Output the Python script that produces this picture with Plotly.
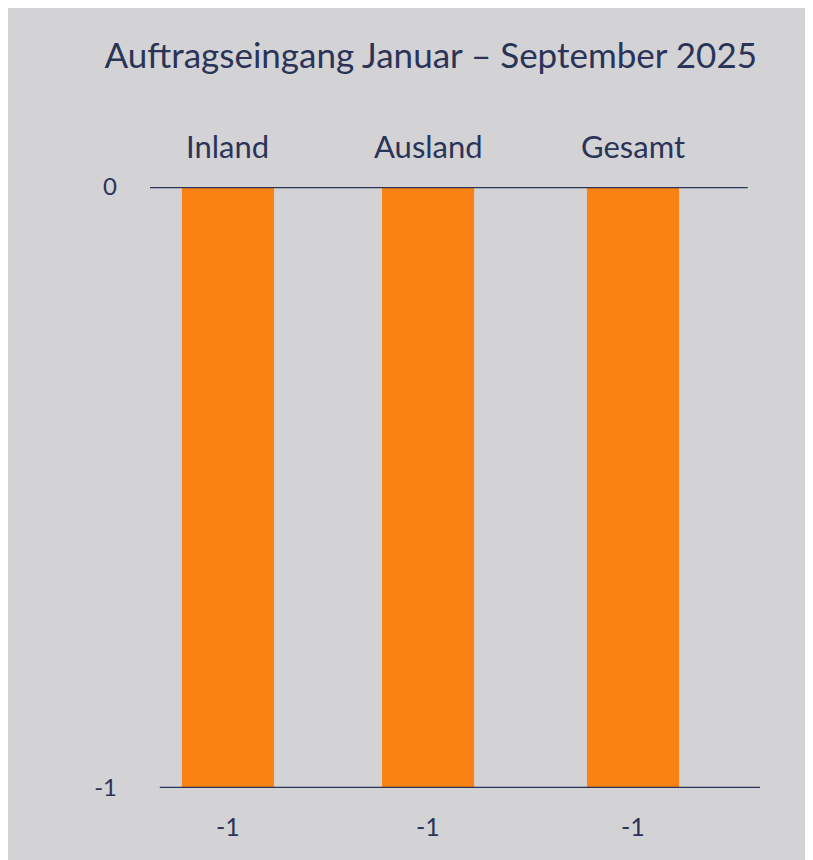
import plotly.graph_objects as go

title = "Auftragseingang Januar – September 2025"
categories = ["Inland", "Ausland", "Gesamt"]
values = [-1, -1, -1]
xpos = [0, 0.988, 2.0]

navy = "#2b3358"
orange = "#fa8212"
bg = "#d3d3d5"

fig = go.Figure()
fig.add_trace(go.Bar(x=xpos, y=values, width=0.455, marker_color=orange,
                     marker_line_width=0))

# category labels on top, value labels below
for x, c, v in zip(xpos, categories, values):
    fig.add_annotation(x=x, y=1, xref="x", yref="paper", text=c, showarrow=False,
                       yshift=62, font=dict(size=31, color=navy))
    fig.add_annotation(x=x, y=v, xref="x", yref="y", text=str(v), showarrow=False,
                       yshift=-38, font=dict(size=25, color=navy))

# axis lines
fig.add_shape(type="line", xref="paper", yref="y", x0=0, x1=0.98, y0=0, y1=0,
              line=dict(color=navy, width=2.5))
fig.add_shape(type="line", xref="paper", yref="y", x0=0.016, x1=1, y0=-1, y1=-1,
              line=dict(color=navy, width=2.5))

fig.update_layout(
    width=813, height=860,
    margin=dict(l=142, r=61, t=179, b=80),
    paper_bgcolor=bg, plot_bgcolor=bg,
    font=dict(family="Lato, Open Sans, sans-serif", color=navy),
    title=dict(text=title, x=0.52, xanchor="center", y=0.945, yanchor="middle",
               font=dict(size=35, color=navy)),
    showlegend=False,
    xaxis=dict(range=[-0.385, 2.627], visible=False),
    yaxis=dict(range=[-1, 0], tickvals=[0, -1], ticktext=["0", "-1"],
               showgrid=False, zeroline=False, ticks="", ticklabelstandoff=32,
               tickfont=dict(size=24, color=navy)),
)

fig.write_html("out.html")
